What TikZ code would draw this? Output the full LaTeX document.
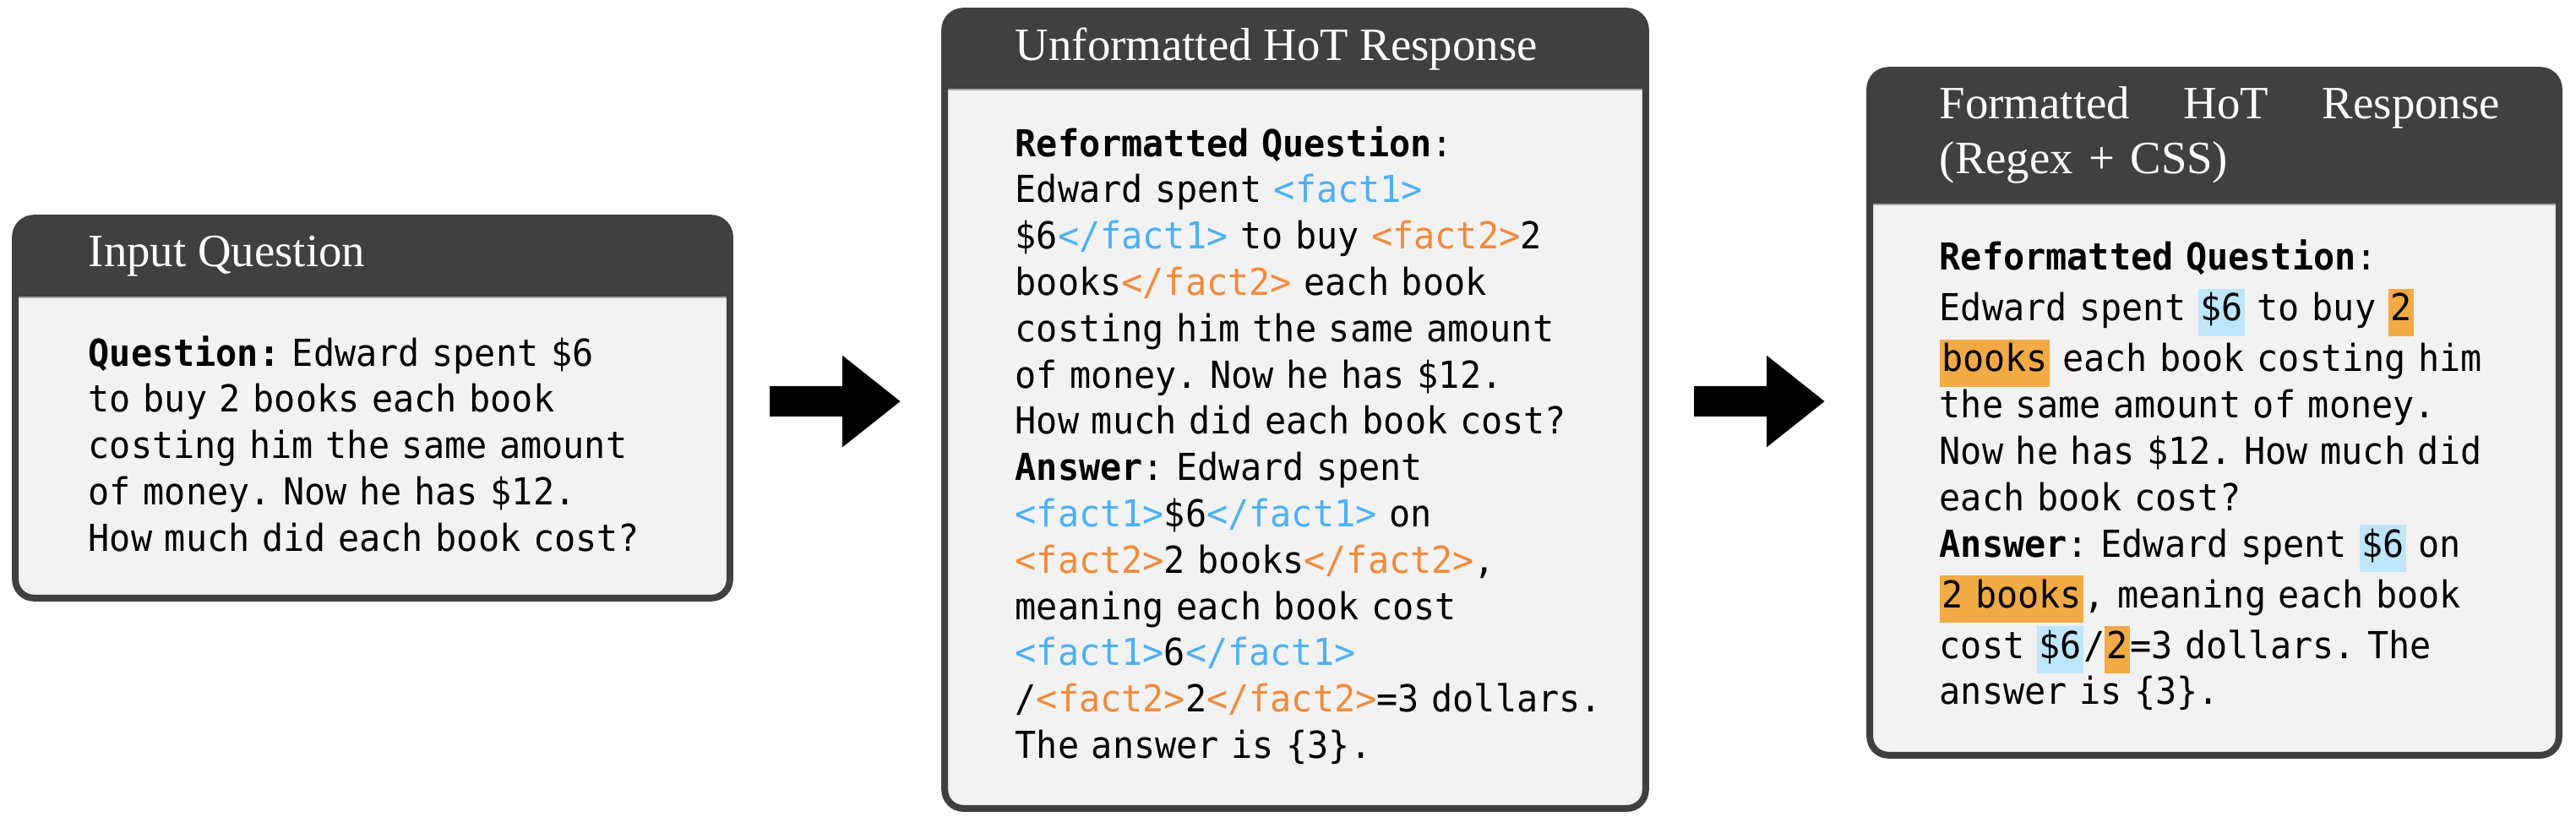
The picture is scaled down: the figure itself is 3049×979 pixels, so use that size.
\documentclass[tikz,border=0pt]{standalone}
\usepackage{fontspec}
\setmainfont{Liberation Serif}
\setmonofont[FakeStretch=0.95]{DejaVu Sans Mono}
\usetikzlibrary{arrows.meta}
\definecolor{hdrgray}{HTML}{404040}
\definecolor{bodygray}{HTML}{F2F2F2}
\definecolor{sepgray}{HTML}{A8A8A8}
\definecolor{tagblue}{HTML}{4DB0F5}
\definecolor{tagorange}{HTML}{F08A3C}
\definecolor{hlblue}{HTML}{BEE6FB}
\definecolor{hlorange}{HTML}{F2AA45}
\newcommand\tb[1]{\textcolor{tagblue}{#1}}
\newcommand\tor[1]{\textcolor{tagorange}{#1}}
\newcommand\hlb[1]{{\setlength{\fboxsep}{0pt}\colorbox{hlblue}{\rule[-4.5pt]{0pt}{14pt}\hspace{0.6pt}#1\hspace{0.6pt}}}}
\newcommand\hlo[1]{{\setlength{\fboxsep}{0pt}\colorbox{hlorange}{\rule[-4.5pt]{0pt}{14pt}\hspace{0.6pt}#1\hspace{0.6pt}}}}
\setlength{\lineskip}{1.25pt}
\setlength{\lineskiplimit}{0pt}
\frenchspacing
\begin{document}
\begin{tikzpicture}[x=0.25pt,y=-0.25pt,
  panel/.style={rectangle, fill=bodygray, rounded corners=5.5pt, inner sep=0pt},
  border/.style={draw=hdrgray, line width=2pt, rounded corners=5.5pt},
  hdr/.style={fill=hdrgray, rounded corners=5.5pt},
  sepline/.style={draw=sepgray, line width=0.4pt},
  ttl/.style={anchor=base west, inner sep=0pt, text=white, font=\fontsize{13.7}{16.25}\selectfont},
  bodytext/.style={anchor=base west, inner sep=0pt, align=left, text width=190pt,
    font=\ttfamily\fontsize{11}{13.7}\selectfont},
  bigarrow/.style={line width=9pt, -{Triangle[length=17.25pt,width=26pt]}},
]
\useasboundingbox (0,0) rectangle (3049,979);

% ---------- Box 1 ----------
\node[panel, minimum width=211pt, minimum height=112pt] (b1) at (441,483) {};
\fill[hdr] (b1.north west) rectangle (b1.east |- 0,372);
\fill[bodygray] (b1.west |- 0,352) rectangle (b1.east |- 0,390);
\draw[sepline] (b1.west |- 0,352) -- (b1.east |- 0,352);
\draw[border] (b1.north west) rectangle (b1.south east);
\node[ttl] (h1) at (104,315) {Input Question};
\node[bodytext] (t1) at (104,433) {\textbf{Question:} Edward spent \$6\\
to buy 2 books each book\\
costing him the same amount\\
of money. Now he has \$12.\\
How much did each book cost?};

% ---------- Box 2 ----------
\node[panel, minimum width=207pt, minimum height=235.5pt] (b2) at (1533,485) {};
\fill[hdr] (b2.north west) rectangle (b2.east |- 0,126);
\fill[bodygray] (b2.west |- 0,106) rectangle (b2.east |- 0,144);
\draw[sepline] (b2.west |- 0,106) -- (b2.east |- 0,106);
\draw[border] (b2.north west) rectangle (b2.south east);
\node[ttl] (h2) at (1201,71) {Unformatted HoT Response};
\node[bodytext] (t2) at (1201,185) {\textbf{Reformatted Question}:\\
Edward spent \tb{<fact1>}\\
\$6\tb{</fact1>} to buy \tor{<fact2>}2\\
books\tor{</fact2>} each book\\
costing him the same amount\\
of money. Now he has \$12.\\
How much did each book cost?\\
\textbf{Answer}: Edward spent\\
\tb{<fact1>}\$6\tb{</fact1>} on\\
\tor{<fact2>}2 books\tor{</fact2>},\\
meaning each book cost\\
\tb{<fact1>}6\tb{</fact1>}\\
/\tor{<fact2>}2\tor{</fact2>}=3 dollars.\\
The answer is \{3\}.};

% ---------- Box 3 ----------
\node[panel, minimum width=203.5pt, minimum height=202.25pt] (b3) at (2621,488.5) {};
\fill[hdr] (b3.north west) rectangle (b3.east |- 0,262);
\fill[bodygray] (b3.west |- 0,242) rectangle (b3.east |- 0,280);
\draw[sepline] (b3.west |- 0,242) -- (b3.east |- 0,242);
\draw[border] (b3.north west) rectangle (b3.south east);
\node[ttl, align=left, text width=175pt] (h3) at (2295,140) {\makebox[165.75pt][l]{Formatted\hfill HoT\hfill Response}\\(Regex + CSS)};
\node[bodytext] (t3) at (2295,319) {\textbf{Reformatted Question}:\\[1.5pt]
Edward spent \hlb{\$6} to buy \hlo{2}\\
\hlo{books} each book costing him\\
the same amount of money.\\
Now he has \$12. How much did\\
each book cost?\\
\textbf{Answer}: Edward spent \hlb{\$6} on\\
\hlo{2 books}, meaning each book\\
cost \hlb{\$6}/\hlo{2}=3 dollars. The\\
answer is \{3\}.};

% ---------- Arrows ----------
\coordinate (a1s) at (911,475);
\coordinate (a1e) at (1066,475);
\coordinate (a2s) at (2005,475);
\coordinate (a2e) at (2160,475);
\draw[bigarrow] (a1s) -- (a1e);
\draw[bigarrow] (a2s) -- (a2e);
\end{tikzpicture}
\end{document}
